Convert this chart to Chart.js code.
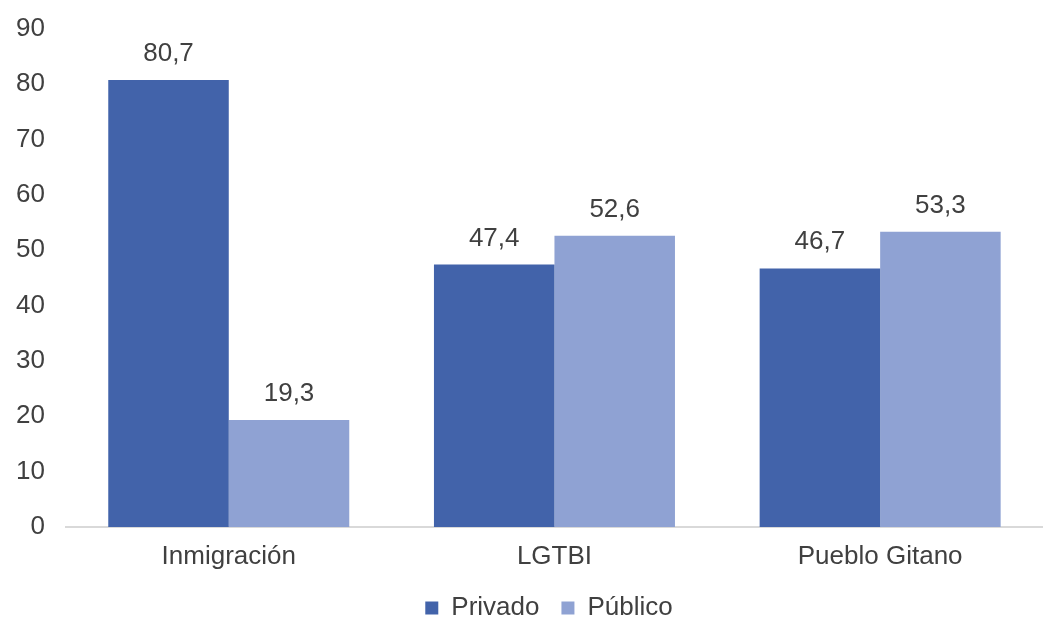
<!DOCTYPE html>
<html>
<head>
<meta charset="utf-8">
<script src="https://cdn.jsdelivr.net/npm/chart.js@4"></script>
<style>
  html, body { margin: 0; padding: 0; background: #fff; }
  #wrap { width: 1043px; height: 620px; }
</style>
</head>
<body>
<div id="wrap"><canvas id="grafico" width="1043" height="620"></canvas></div>
<script>
const categorias = ["Inmigración", "LGTBI", "Pueblo Gitano"];
const privado = [80.7, 47.4, 46.7];
const publico = [19.3, 52.6, 53.3];

const textColor = "#404040";
const fuente = "'Liberation Sans', Arial, sans-serif";

// etiquetas con coma decimal encima de cada barra
const etiquetas = {
  id: "etiquetas",
  afterDatasetsDraw(chart) {
    const ctx = chart.ctx;
    ctx.save();
    ctx.font = "26px " + fuente;
    ctx.fillStyle = textColor;
    ctx.textAlign = "center";
    ctx.textBaseline = "alphabetic";
    chart.data.datasets.forEach((ds, i) => {
      chart.getDatasetMeta(i).data.forEach((bar, j) => {
        ctx.fillText(ds.data[j].toFixed(1).replace(".", ","), bar.x, bar.y - 19);
      });
    });
    ctx.restore();
  }
};

// la leyenda ocupa menos alto y va algo a la derecha, como en el original
const altoLeyenda = {
  id: "altoLeyenda",
  beforeLayout(chart) {
    const lg = chart.legend;
    if (lg && !lg._ajustada) {
      const fit = lg.fit;
      lg.fit = function () { fit.call(this); this.height = 47; };
      const draw = lg.draw;
      lg.draw = function () {
        this.ctx.save();
        this.ctx.translate(26, 0);
        draw.call(this);
        this.ctx.restore();
      };
      lg._ajustada = true;
    }
  }
};

Chart.defaults.font.family = fuente;
Chart.defaults.font.size = 26;
Chart.defaults.color = textColor;

new Chart(document.getElementById("grafico").getContext("2d"), {
  type: "bar",
  data: {
    labels: categorias,
    datasets: [
      { label: "Privado", data: privado, backgroundColor: "#4263AA" },
      { label: "Público", data: publico, backgroundColor: "#8FA2D3" }
    ]
  },
  options: {
    responsive: false,
    animation: false,
    layout: { padding: { left: 3, right: 0, top: 13, bottom: 0 } },
    datasets: { bar: { categoryPercentage: 0.74, barPercentage: 1 } },
    scales: {
      y: {
        min: 0, max: 90,
        ticks: { stepSize: 10, padding: 13, color: textColor },
        grid: { display: false },
        border: { display: false }
      },
      x: {
        ticks: { padding: 6, color: textColor },
        grid: { display: false },
        border: { display: true, color: "#d9d9d9", width: 2 },
        afterFit(scale) { scale.height = 46; }
      }
    },
    plugins: {
      legend: {
        position: "bottom",
        labels: { boxWidth: 13, boxHeight: 13, padding: 22, color: textColor, font: { size: 26 } }
      },
      tooltip: { enabled: false }
    }
  },
  plugins: [etiquetas, altoLeyenda]
});
</script>
</body>
</html>
